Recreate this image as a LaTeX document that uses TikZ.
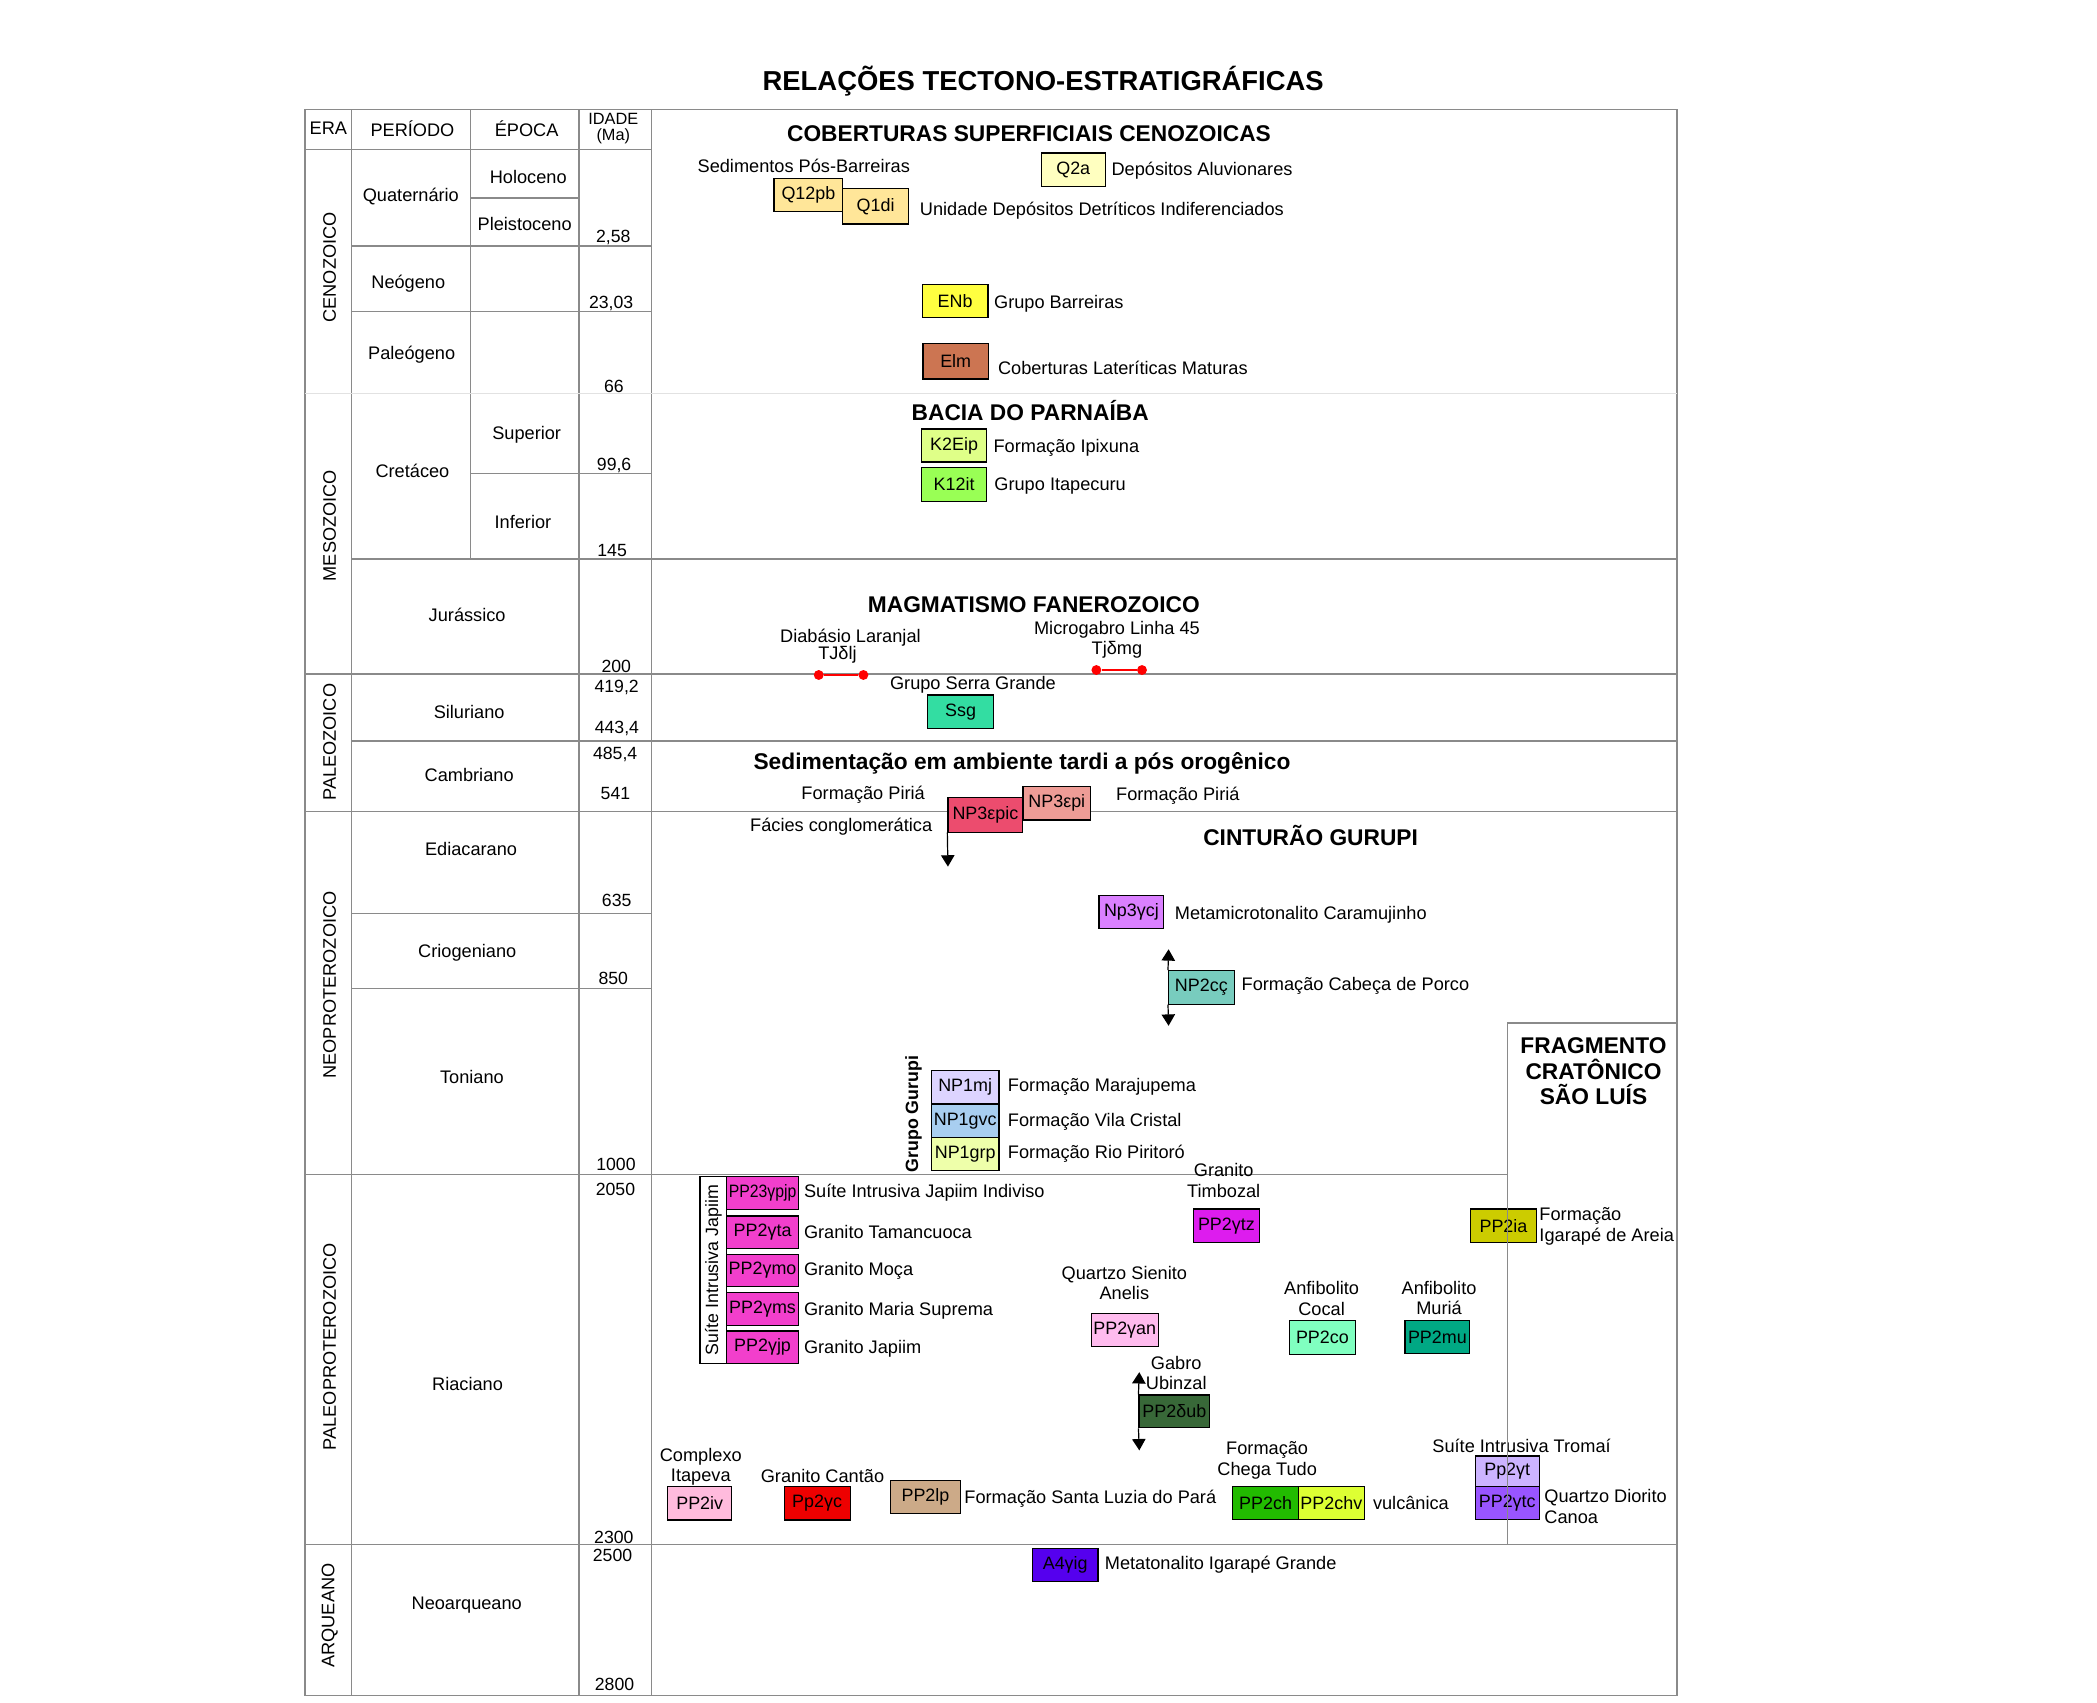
\documentclass[tikz,border=0pt]{standalone}
\usepackage{fontspec}
\setmainfont{Liberation Sans}
\newfontfamily\narrowfont[FakeStretch=0.88]{Liberation Sans}
\usetikzlibrary{positioning,arrows.meta}
\definecolor{gridline}{HTML}{8A8A8A}
\definecolor{uqpb}{HTML}{FFE699}
\definecolor{uqa}{HTML}{FFFFC0}
\definecolor{uenb}{HTML}{FFFF40}
\definecolor{uelm}{HTML}{CC7552}
\definecolor{ukip}{HTML}{DFFF88}
\definecolor{ukit}{HTML}{99FF55}
\definecolor{ussg}{HTML}{33DDA2}
\definecolor{uepic}{HTML}{EC4C6E}
\definecolor{uepi}{HTML}{EE9C96}
\definecolor{ugcj}{HTML}{DA80FF}
\definecolor{ucpo}{HTML}{78CCBE}
\definecolor{umj}{HTML}{DDD4FF}
\definecolor{ugvc}{HTML}{A8CEF0}
\definecolor{ugrp}{HTML}{EEFFAA}
\definecolor{ugtz}{HTML}{DD1CEE}
\definecolor{ujap}{HTML}{F23FCC}
\definecolor{ugan}{HTML}{FFBBEE}
\definecolor{udub}{HTML}{386838}
\definecolor{upco}{HTML}{80FFC0}
\definecolor{upmu}{HTML}{00A884}
\definecolor{upia}{HTML}{CCCC00}
\definecolor{ugt}{HTML}{CCB4FF}
\definecolor{ugtc}{HTML}{9955FF}
\definecolor{upch}{HTML}{22BB00}
\definecolor{uchv}{HTML}{DDFF33}
\definecolor{upiv}{HTML}{FFBBDD}
\definecolor{ugc}{HTML}{EE0000}
\definecolor{uplp}{HTML}{CCAA88}
\definecolor{ugig}{HTML}{5500EE}
\tikzset{
  >={Triangle[width=10pt,length=8.5pt]},
  every node/.style={inner sep=0pt},
  % --- chart
  rule/.style   = {draw=gridline, line width=0.9pt},
  faint/.style  = {draw=gridline!25, line width=0.9pt},
  cell/.style   = {font=\fontsize{13.6}{15}\selectfont},
  age/.style    = {font=\fontsize{13.2}{15}\selectfont},
  eralbl/.style = {cell, rotate=90},
  % --- units
  head/.style   = {font=\fontsize{17}{19.5}\selectfont\bfseries, align=center},
  lbl/.style    = {font=\fontsize{13.6}{15.2}\selectfont, align=center},
  unit/.style   = {draw=black, line width=0.9pt, font=\fontsize{13.4}{15}\selectfont,
                   minimum width=49pt, minimum height=25pt},
  dot/.style    = {circle, fill=red, minimum size=7.4pt},
  dyke/.style   = {draw=red, line width=1.8pt},
  lead/.style   = {->, draw=black, line width=0.9pt},
}
\begin{document}
\begin{tikzpicture}[x=1pt,y=-1pt]
  \useasboundingbox (0,0) rectangle (1568,1273);
  % --- frame and grid
  \draw[rule] (228,82) rectangle (1254,1268);
  \draw[rule] (263,82) -- (263,1268);
  \draw[rule] (352,82) -- (352,418);
  \draw[rule] (433,82) -- (433,1268);
  \draw[rule] (487,82) -- (487,1268);
  \draw[rule] (228,112) -- (487,112);
  \draw[rule] (352,148) -- (433,148);
  \draw[rule] (263,184) -- (487,184);
  \draw[rule] (263,233) -- (487,233);
  \draw[faint] (228,294) -- (1254,294);
  \draw[rule] (352,354) -- (487,354);
  \draw[rule] (263,418) -- (1254,418);
  \draw[rule] (228,504) -- (1254,504);
  \draw[rule] (263,554) -- (1254,554);
  \draw[rule] (228,607) -- (1254,607);
  \draw[rule] (263,683) -- (487,683);
  \draw[rule] (263,739) -- (487,739);
  \draw[rule] (228,878) -- (1127,878);
  \draw[rule] (228,1155) -- (1254,1155);
  \draw[rule] (1127,765) -- (1254,765);

  \node[font=\fontsize{20.5}{24}\selectfont\bfseries] (title) at (780,61) {RELAÇÕES TECTONO-ESTRATIGRÁFICAS};

  % --- header
  \node[cell] (hera) at (245.5,96) {ERA};
  \node[cell] (hper) at (308.4,96) {PERÍODO};
  \node[cell] (hepo) at (393.8,96) {ÉPOCA};
  \node[font=\fontsize{12.2}{12}\selectfont, align=center] (hida) at (458.6,96.2) {IDADE\\(Ma)};

  % --- eras
  \node[eralbl] (cen) at (246.5,200) {CENOZOICO};
  \node[eralbl] (mes) at (246.5,393) {MESOZOICO};
  \node[eralbl] (pal) at (246.5,555) {PALEOZOICO};
  \node[eralbl] (neo) at (246.5,736.5) {NEOPROTEROZOICO};
  \node[eralbl] (ppr) at (246.5,1007) {PALEOPROTEROZOICO};
  \node[eralbl] (arq) at (246.5,1208) {ARQUEANO};

  % --- periods and epochs
  \node[cell] (qua) at (307.2,147) {Quaternário};
  \node[cell] (neg) at (305.3,211.8) {Neógeno};
  \node[cell] (pag) at (307.8,265.4) {Paleógeno};
  \node[cell] (cre) at (308.4,352) {Cretáceo};
  \node[cell] (jur) at (349.3,459.9) {Jurássico};
  \node[cell] (sil) at (350.8,532.1) {Siluriano};
  \node[cell] (cam) at (350.8,579.5) {Cambriano};
  \node[cell] (edi) at (352.2,635) {Ediacarano};
  \node[cell] (cri) at (349.4,712.3) {Criogeniano};
  \node[cell] (ton) at (352.9,805) {Toniano};
  \node[cell] (ria) at (349.6,1035) {Riaciano};
  \node[cell] (nar) at (349,1200.3) {Neoarqueano};
  \node[cell] (hol) at (395,132.6) {Holoceno};
  \node[cell] (ple) at (392.3,167.7) {Pleistoceno};
  \node[cell] (sup) at (393.8,325.3) {Superior};
  \node[cell] (inf) at (391,390) {Inferior};

  % --- ages
  \node[age] (a1) at (458.6,177.4) {2,58};
  \node[age] (a2) at (457,226.8) {23,03};
  \node[age] (a3) at (459,288.6) {66};
  \node[age] (a4) at (459.2,347.7) {99,6};
  \node[age] (a5) at (457.7,411.8) {145};
  \node[age] (a6) at (460.8,498.5) {200};
  \node[age] (a7) at (461.1,513.9) {419,2};
  \node[age] (a8) at (461.3,544.6) {443,4};
  \node[age] (a9) at (460,563.8) {485,4};
  \node[age] (a10) at (460.2,593.2) {541};
  \node[age] (a11) at (461.1,673) {635};
  \node[age] (a12) at (458.6,731.5) {850};
  \node[age] (a13) at (460.6,871) {1000};
  \node[age] (a14) at (460.2,889.3) {2050};
  \node[age] (a15) at (459,1149.7) {2300};
  \node[age] (a16) at (458,1163.3) {2500};
  \node[age] (a17) at (459.5,1259.8) {2800};

  % --- coberturas cenozoicas
  \node[head] (cob) at (769.4,99.7) {COBERTURAS SUPERFICIAIS CENOZOICAS};
  \node[lbl] (sedl) at (601,123.9) {Sedimentos Pós-Barreiras};
  \node[unit, fill=uqpb, minimum width=51.5pt] (q12pb) at (604.5,145.8) {Q12pb};
  \node[unit, fill=uqpb, minimum height=26.7pt] (q1di) at (654.7,154.2) {Q1di};
  \node[lbl, right=8pt of q1di, yshift=-3pt] (unil) {Unidade Depósitos Detríticos Indiferenciados};
  \node[unit, fill=uqa, minimum width=48pt] (q2a) at (802.5,126.9) {Q2a};
  \node[lbl, right=4pt of q2a, yshift=-1pt] (alul) {Depósitos Aluvionares};
  \node[unit, fill=uenb] (enb) at (714.2,225.1) {ENb};
  \node[lbl, right=4pt of enb, yshift=-2pt] (barl) {Grupo Barreiras};
  \node[unit, fill=uelm, minimum height=26.7pt] (elm) at (714.6,270) {Elm};
  \node[lbl, right=6.5pt of elm, yshift=-5pt] (latl) {Coberturas Lateríticas Maturas};

  % --- bacia do parnaiba
  \node[head] (bac) at (770.3,307) {BACIA DO PARNAÍBA};
  \node[unit, fill=ukip, minimum height=24.6pt] (k2eip) at (713.4,333.1) {K2Eip};
  \node[lbl, right=4.4pt of k2eip, yshift=-2pt] (ipxl) {Formação Ipixuna};
  \node[unit, fill=ukit] (k12it) at (713.4,362.2) {K12it};
  \node[lbl, right=5pt of k12it, yshift=-1pt] (itpl) {Grupo Itapecuru};

  % --- magmatismo
  \node[head] (mag) at (773,452.4) {MAGMATISMO FANEROZOICO};
  \node[lbl] (djl) at (635.9,476.5) {Diabásio Laranjal};
  \node[lbl] (tjl) at (626.2,489.8) {TJδlj};
  \node[dot] (tj1) at (612.2,504.7) {};
  \node[dot] (tj2) at (645.6,504.7) {};
  \draw[dyke] (tj1) -- (tj2);
  \node[lbl] (mgl) at (835.2,470.6) {Microgabro Linha 45};
  \node[lbl] (tjm) at (835.2,486) {Tjδmg};
  \node[dot] (mg1) at (819.8,501) {};
  \node[dot] (mg2) at (853.9,501) {};
  \draw[dyke] (mg1) -- (mg2);
  \node[lbl] (ssgl) at (727.5,512.2) {Grupo Serra Grande};
  \node[unit, fill=ussg] (ssg) at (718.3,532.2) {Ssg};

  % --- sedimentacao tardi a pos orogenica
  \node[head] (sed) at (764.2,570.8) {Sedimentação em ambiente tardi a pós orogênico};
  \node[lbl] (pirl) at (645.4,594.4) {Formação Piriá};
  \node[lbl] (facl) at (629,618.1) {Fácies conglomerática};
  \node[unit, fill=uepic, minimum width=56pt, minimum height=26pt] (np3epic) at (736.8,609.2) {NP3εpic};
  \node[unit, fill=uepi, minimum width=50.7pt] (np3epi) at (790.2,600.7) {NP3εpi};
  \node[lbl] (pirr) at (880.7,595) {Formação Piriá};
  \coordinate (epictip) at (708.8,648);
  \draw[lead] (np3epic.south west) -- (epictip);

  % --- cinturao gurupi
  \node[head] (cin) at (980,624.4) {CINTURÃO GURUPI};
  \node[unit, fill=ugcj, minimum width=48.4pt, minimum height=24.4pt] (np3gcj) at (846,681.9) {Np3γcj};
  \node[lbl, right=7.7pt of np3gcj, yshift=-2pt] (carl) {Metamicrotonalito Caramujinho};
  \node[unit, fill=ucpo] (np2cc) at (898.3,738.3) {NP2cç};
  \node[lbl, right=5pt of np2cc, yshift=1pt] (cpol) {Formação Cabeça de Porco};
  \coordinate (ccup) at (873.8,709.8);
  \coordinate (ccdn) at (873.8,767);
  \draw[lead] (np2cc.north west) -- (ccup);
  \draw[lead] (np2cc.south west) -- (ccdn);
  \node[font=\fontsize{13.3}{15}\selectfont\bfseries, rotate=90] (gur) at (683,833) {Grupo Gurupi};
  \node[unit, fill=umj, minimum width=50.7pt] (np1mj) at (721.7,813) {NP1mj};
  \node[unit, fill=ugvc, minimum width=50.7pt] (np1gvc) at (721.7,838) {NP1gvc};
  \node[unit, fill=ugrp, minimum width=50.7pt] (np1grp) at (721.7,863) {NP1grp};
  \node[lbl, right=6pt of np1mj] (mjl) {Formação Marajupema};
  \node[lbl, right=6pt of np1gvc, yshift=-1pt] (gvcl) {Formação Vila Cristal};
  \node[lbl, right=6pt of np1grp] (grpl) {Formação Rio Piritoró};

  % --- riaciano units
  \node[draw=black, line width=0.9pt, rotate=90, minimum width=139.8pt, minimum height=20pt,
        font=\fontsize{13.3}{15}\selectfont] (suite) at (533.4,949.7) {Suíte Intrusiva Japiim};
  \node[unit, fill=ujap, minimum width=53.5pt, minimum height=24.4pt] (jp1) at (570.2,892) {\narrowfont PP23γpjp};
  \node[unit, fill=ujap, minimum width=53.5pt, minimum height=24.4pt] (jp2) at (570.2,921.5) {PP2γta};
  \node[unit, fill=ujap, minimum width=53.5pt, minimum height=24.4pt] (jp3) at (570.2,950) {PP2γmo};
  \node[unit, fill=ujap, minimum width=53.5pt, minimum height=24.4pt] (jp4) at (570.2,978.8) {PP2γms};
  \node[unit, fill=ujap, minimum width=53.5pt, minimum height=24.4pt] (jp5) at (570.2,1007.4) {PP2γjp};
  \node[lbl, right=3.6pt of jp1] (jp1l) {Suíte Intrusiva Japiim Indiviso};
  \node[lbl, right=3.6pt of jp2] (jp2l) {Granito Tamancuoca};
  \node[lbl, right=3.6pt of jp3] (jp3l) {Granito Moça};
  \node[lbl, right=3.6pt of jp4, yshift=-1.5pt] (jp4l) {Granito Maria Suprema};
  \node[lbl, right=3.6pt of jp5, yshift=-1.5pt] (jp5l) {Granito Japiim};

  \node[lbl] (timl) at (915,882.8) {Granito\\Timbozal};
  \node[unit, fill=ugtz] (pp2gtz) at (917,916.5) {PP2γtz};
  \node[lbl] (anel) at (840.7,959.5) {Quartzo Sienito\\Anelis};
  \node[unit, fill=ugan, minimum width=50pt] (pp2gan) at (841,994.5) {PP2γan};
  \node[lbl] (ubil) at (879.5,1026.4) {Gabro\\Ubinzal};
  \node[unit, fill=udub, minimum width=52.8pt, minimum height=24.5pt] (pp2dub) at (878.1,1055.3) {PP2δub};
  \coordinate (dubup) at (851.9,1026);
  \coordinate (dubdn) at (851.9,1084.5);
  \draw[lead] (pp2dub.north west) -- (dubup);
  \draw[lead] (pp2dub.south west) -- (dubdn);
  \node[lbl] (cocl) at (988.2,971) {Anfibolito\\Cocal};
  \node[unit, fill=upco, minimum width=49.6pt] (pp2co) at (988.8,1000) {PP2co};
  \node[lbl] (murl) at (1076,970.5) {Anfibolito\\Muriá};
  \node[unit, fill=upmu, minimum width=48.4pt, minimum height=24.5pt] (pp2mu) at (1074.8,999.8) {PP2mu};
  \node[unit, fill=upia] (pp2ia) at (1124.2,916.5) {PP2ia};
  \node[lbl, align=left, anchor=west] (igal) at (1150.9,917) {Formação\\Igarapé de Areia};
  \node[lbl] (troml) at (1137.7,1081) {Suíte Intrusiva Tromaí};
  \node[unit, fill=ugt, minimum width=48pt, minimum height=23pt] (pp2gt) at (1127,1100.2) {Pp2γt};
  \node[unit, fill=ugtc, minimum width=48pt, minimum height=24.4pt] (pp2gtc) at (1127,1123.8) {PP2γtc};
  \node[lbl, align=left, anchor=west] (canl) at (1154.6,1126.5) {Quartzo Diorito\\Canoa};
  \node[lbl] (chel) at (947.5,1092) {Formação\\Chega Tudo};
  \node[unit, fill=upch, minimum width=49.5pt, minimum height=24.4pt] (pp2ch) at (946.3,1123.8) {PP2ch};
  \node[unit, fill=uchv, minimum height=24.4pt] (pp2chv) at (995.5,1123.8) {PP2chv};
  \node[lbl, right=6pt of pp2chv] (vull) {vulcânica};
  \node[lbl] (itpv) at (524,1097) {Complexo\\Itapeva};
  \node[unit, fill=upiv, minimum width=47.6pt] (pp2iv) at (523.2,1124) {PP2iv};
  \node[lbl] (cant) at (615,1103.6) {Granito Cantão};
  \node[unit, fill=ugc, minimum width=49.3pt] (pp2gc) at (611,1124) {Pp2γc};
  \node[unit, fill=uplp, minimum width=52pt, minimum height=24.6pt] (pp2lp) at (692,1119.3) {PP2lp};
  \node[lbl, right=2.5pt of pp2lp, yshift=-1.5pt] (slpl) {Formação Santa Luzia do Pará};

  % --- neoarqueano
  \node[unit, fill=ugig] (a4gig) at (796.5,1170.2) {A4γig};
  \node[lbl, right=4.5pt of a4gig] (igrl) {Metatonalito Igarapé Grande};

  % --- fragmento cratonico
  \draw[rule] (1127,1155) -- (1127,765);
  \node[head, font=\fontsize{17}{19.2}\selectfont\bfseries] (frag) at (1191.5,801) {FRAGMENTO\\CRATÔNICO\\SÃO LUÍS};
\end{tikzpicture}
\end{document}
